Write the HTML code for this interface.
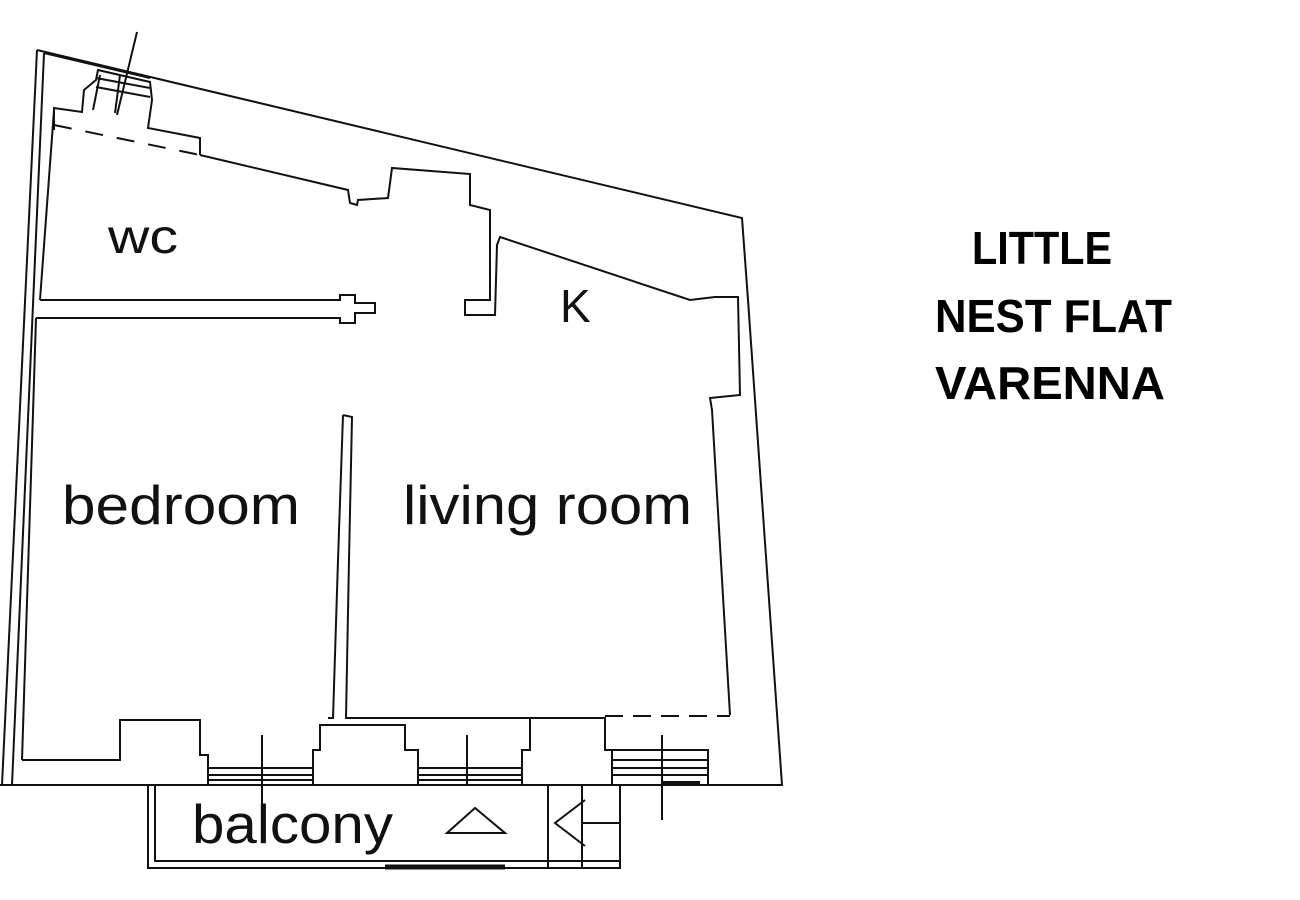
<!DOCTYPE html>
<html><head><meta charset="utf-8"><style>html,body{margin:0;padding:0;background:#fff;}svg{display:block}</style></head>
<body>
<svg width="1300" height="900" viewBox="0 0 1300 900" xmlns="http://www.w3.org/2000/svg">
<g fill="none" stroke="#111" stroke-width="2">
<!-- outer walls -->
<polyline points="37,50 742,218 748,300 782,785 0,785"/>
<line x1="37" y1="50" x2="2" y2="785"/>
<line x1="44" y1="53" x2="12" y2="785"/>
<line x1="44" y1="53" x2="150" y2="78"/>
<line x1="54" y1="110" x2="40" y2="300"/>
<line x1="36" y1="318" x2="22" y2="760"/>
<!-- bedroom bottom profile -->
<polyline points="22,760 120,760 120,720 200,720 200,755 208,755 208,785"/>
<polyline points="313,785 313,750 320,750 320,725 405,725 405,750 418,750 418,785"/>
<polyline points="522,785 522,750 530,750 530,718 605,718 605,750 612,750 612,785"/>
<polyline points="612,750 708,750 708,785"/>
<line x1="605" y1="716" x2="730" y2="716" stroke-dasharray="18,10"/>
<!-- windows -->
<line x1="208" y1="768" x2="313" y2="768"/><line x1="208" y1="775" x2="313" y2="775"/><line x1="208" y1="780" x2="313" y2="780"/>
<line x1="418" y1="768" x2="522" y2="768"/><line x1="418" y1="775" x2="522" y2="775"/><line x1="418" y1="780" x2="522" y2="780"/>
<line x1="612" y1="760" x2="708" y2="760"/><line x1="612" y1="768" x2="708" y2="768"/><line x1="612" y1="775" x2="708" y2="775"/>
<line x1="662" y1="783" x2="700" y2="783" stroke-width="4"/>
<line x1="262" y1="735" x2="262" y2="840"/>
<line x1="467" y1="735" x2="467" y2="785"/>
<line x1="662" y1="735" x2="662" y2="820"/>
<!-- wc / bedroom partition -->
<polyline points="40,300 340,300 340,295 355,295 355,303 375,303 375,313 355,313 355,323 340,323 340,318 36,318"/>
<!-- bedroom/living wall -->
<polyline points="343,415 352,417 349,560 346,718 533,718"/>
<polyline points="343,415 338,560 333,718 328,718"/>
<!-- top inner walls -->
<polyline points="54,130 54,108 82,112 84,90 96,80 98,70 150,82 152,100 148,128 200,138 200,155"/>
<line x1="54" y1="125" x2="200" y2="155" stroke-dasharray="18,14"/>
<polyline points="200,155 348,190 350,203 357,205 358,200 388,198 392,168 470,174 470,205 490,210 490,300 465,300 465,315 495,315 497,245 500,237 690,300 715,297 738,297 740,395 710,398 712,410 730,715"/>
<line x1="100" y1="75" x2="93" y2="110"/><line x1="120" y1="75" x2="115" y2="113"/><line x1="137" y1="32" x2="117" y2="115"/>
<line x1="96" y1="78" x2="150" y2="88"/><line x1="96" y1="87" x2="150" y2="97"/>
<!-- balcony -->
<polyline points="148,785 148,868 620,868 620,785"/>
<polyline points="155,785 155,861 620,861"/>
<line x1="385" y1="867" x2="505" y2="867" stroke-width="5"/>
<line x1="548" y1="785" x2="548" y2="868"/>
<line x1="582" y1="785" x2="582" y2="868"/>
<line x1="582" y1="823" x2="620" y2="823"/>
<polyline points="585,800 555,823 585,846"/>
<polygon points="475,808 447,833 505,833"/>
</g>
<g font-family="'Liberation Sans', sans-serif" fill="#111">
<text x="108" y="253" font-size="48" textLength="70" lengthAdjust="spacingAndGlyphs">wc</text>
<text x="560" y="322" font-size="46">K</text>
<text x="62" y="524" font-size="55" textLength="238" lengthAdjust="spacingAndGlyphs">bedroom</text>
<text x="403" y="524" font-size="55" textLength="289" lengthAdjust="spacingAndGlyphs">living room</text>
<text x="192" y="843" font-size="55" textLength="201" lengthAdjust="spacingAndGlyphs">balcony</text>
</g>
<g font-family="'Liberation Sans', sans-serif" font-weight="bold" fill="#000" font-size="46">
<text x="972" y="264" textLength="140" lengthAdjust="spacingAndGlyphs">LITTLE</text>
<text x="935" y="332" textLength="237" lengthAdjust="spacingAndGlyphs">NEST FLAT</text>
<text x="935" y="399" textLength="230" lengthAdjust="spacingAndGlyphs">VARENNA</text>
</g>
</svg>
</body></html>
